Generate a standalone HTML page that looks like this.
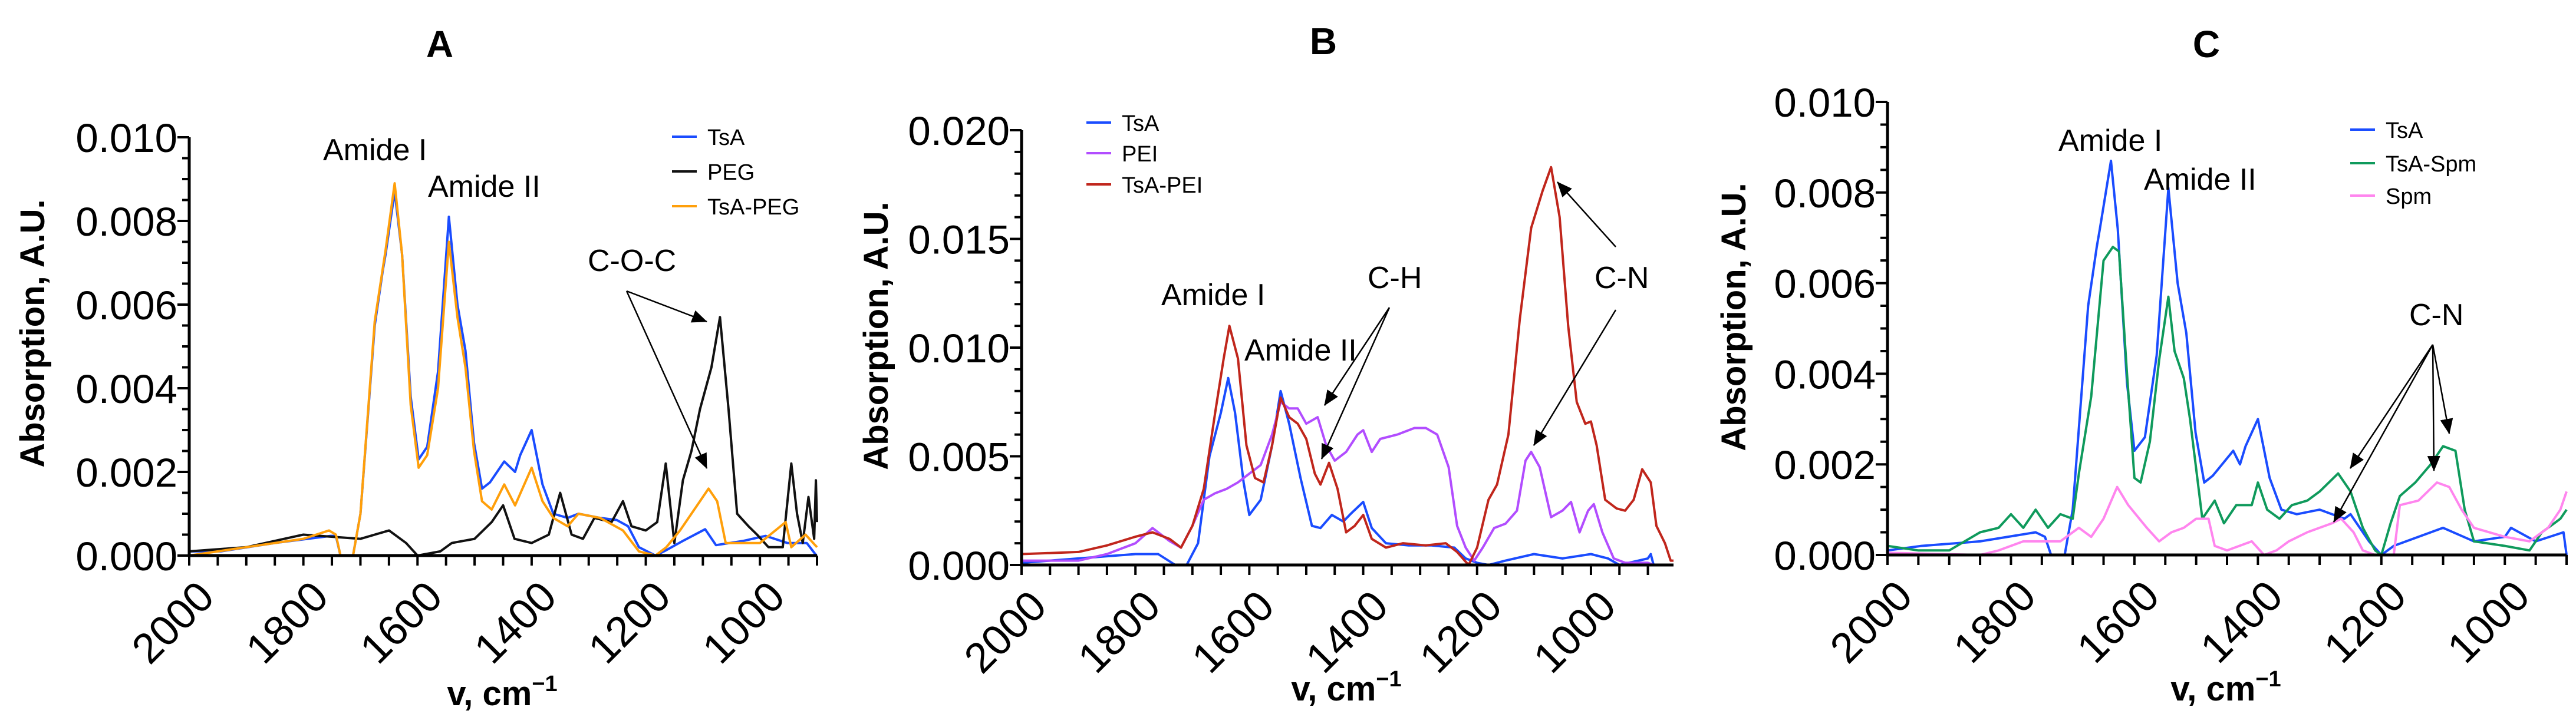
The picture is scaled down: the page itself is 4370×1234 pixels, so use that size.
<!DOCTYPE html>
<html><head><meta charset="utf-8"><style>
html,body{margin:0;padding:0;background:#fff}
svg{display:block}
text{font-family:"Liberation Sans",sans-serif;fill:#000}
</style></head><body>
<svg id="fig" width="4370" height="1234" viewBox="0 0 4370 1234" xmlns="http://www.w3.org/2000/svg">
<defs>
<marker id="ahb" markerWidth="26" markerHeight="22" refX="25" refY="11" orient="auto" markerUnits="userSpaceOnUse" viewBox="0 0 26 22"><path d="M0,0 L26,11 L0,22 z" fill="#000"/></marker></defs>
</svg>
<script>
// ---------- Panel A data ----------
const aTsAx=[2000,1945,1850,1752,1743,1735,1713,1700,1675,1661,1656,1640,1627,1612,1598,1583,1564,1545,1530,1516,1501,1487,1473,1448,1429,1420,1400,1381,1362,1337,1318,1280,1251,1231,1212,1183,1164,1135,1096,1077,1029,990,952,918,901];
const aTsAy=[0.0001,0.0001,0.0003,0.00047,0.00047,0,0,0.001,0.0055,0.0068,0.0072,0.0087,0.0072,0.0038,0.0023,0.0026,0.0044,0.0081,0.006,0.0049,0.0027,0.0016,0.00175,0.00225,0.002,0.0024,0.003,0.0017,0.001,0.0009,0.001,0.0009,0.00085,0.0007,0.0002,0,0.00013,0.00035,0.00063,0.00025,0.00035,0.00047,0.0003,0.0003,0];
const aPEGx=[2000,1900,1800,1700,1650,1620,1600,1560,1540,1500,1470,1450,1430,1400,1370,1350,1330,1310,1290,1260,1240,1225,1200,1180,1165,1150,1135,1120,1105,1085,1070,1055,1040,1020,1005,985,960,945,935,925,915,905,902,900];
const aPEGy=[0.0001,0.0002,0.0005,0.0004,0.0006,0.0003,0,0.0001,0.0003,0.0004,0.0008,0.0012,0.0004,0.0003,0.0005,0.0015,0.0005,0.0004,0.0009,0.0008,0.0013,0.0007,0.0006,0.0008,0.0022,0.0003,0.0018,0.0025,0.0035,0.0045,0.0057,0.0035,0.001,0.0007,0.0005,0.0002,0.0002,0.0022,0.001,0.0003,0.0014,0.0004,0.0018,0.0008];
const aMixx=[2000,1900,1800,1755,1743,1735,1713,1700,1675,1656,1640,1627,1612,1598,1583,1564,1545,1530,1516,1501,1487,1470,1448,1429,1400,1381,1362,1337,1318,1280,1240,1212,1183,1164,1140,1110,1090,1075,1060,1020,1000,955,945,920,900];
const aMixy=[0,0.0002,0.0004,0.0006,0.0005,0,0,0.001,0.0056,0.0073,0.0089,0.0072,0.0036,0.0021,0.0024,0.004,0.0075,0.0057,0.0045,0.0025,0.0013,0.0011,0.0017,0.0012,0.0021,0.0013,0.0009,0.0007,0.001,0.0009,0.0006,0.0001,0,0.0002,0.0006,0.0012,0.0016,0.0013,0.0003,0.0003,0.0003,0.0008,0.0002,0.0005,0.0002];
// ---------- Panel B data ----------
const bTsAx=[2000,1900,1800,1760,1730,1710,1690,1670,1650,1637,1625,1610,1600,1580,1560,1545,1530,1510,1490,1475,1455,1435,1420,1400,1385,1360,1320,1280,1240,1220,1200,1180,1150,1100,1050,1000,970,950,900,895,890];
const bTsAy=[0.0001,0.0003,0.0005,0.0005,0,0,0.001,0.005,0.007,0.0086,0.007,0.0038,0.0023,0.003,0.0055,0.008,0.0065,0.004,0.0018,0.0017,0.0023,0.002,0.0024,0.0029,0.0017,0.001,0.0009,0.0009,0.0008,0.0003,0.0001,0,0.0002,0.0005,0.0003,0.0005,0.0003,0,0.0003,0.0005,0];
const bPEIx=[2000,1900,1850,1800,1770,1740,1720,1700,1680,1660,1640,1620,1600,1580,1560,1545,1530,1515,1500,1480,1465,1450,1430,1410,1400,1385,1370,1340,1310,1290,1270,1250,1235,1220,1205,1190,1170,1150,1130,1115,1105,1090,1070,1050,1035,1020,1005,995,980,960,940,900,890];
const bPEIy=[0.0002,0.0002,0.0005,0.001,0.0017,0.0011,0.0008,0.0018,0.003,0.0033,0.0035,0.0038,0.0042,0.0046,0.006,0.0075,0.0072,0.0072,0.0065,0.0068,0.0055,0.0048,0.0052,0.006,0.0062,0.0052,0.0058,0.006,0.0063,0.0063,0.006,0.0045,0.0018,0.0008,0.0002,0.0008,0.0017,0.0019,0.0025,0.0048,0.0052,0.0045,0.0022,0.0025,0.0029,0.0015,0.0025,0.0028,0.0015,0.0003,0.0001,0.0001,0];
const bMixx=[2000,1900,1850,1800,1770,1740,1720,1700,1680,1660,1645,1635,1620,1605,1590,1575,1560,1545,1530,1515,1500,1485,1475,1460,1445,1430,1415,1400,1385,1360,1330,1290,1255,1235,1215,1200,1180,1165,1145,1125,1105,1085,1070,1055,1040,1025,1010,1000,990,975,955,940,925,910,895,885,870,860,855];
const bMixy=[0.0005,0.0006,0.0009,0.0013,0.0015,0.0012,0.0008,0.0018,0.0035,0.007,0.0095,0.011,0.0095,0.0055,0.004,0.0038,0.0055,0.0077,0.0068,0.0065,0.0058,0.0042,0.0037,0.0047,0.0035,0.0015,0.0018,0.0023,0.0012,0.0008,0.001,0.0009,0.001,0.0006,0,0.0008,0.003,0.0037,0.006,0.0113,0.0155,0.0172,0.0183,0.016,0.011,0.0075,0.0065,0.0066,0.0055,0.003,0.0026,0.0025,0.003,0.0044,0.0038,0.0018,0.001,0.0002,0.0002];
// ---------- Panel C data ----------
const cTsAx=[2000,1945,1850,1760,1745,1735,1713,1700,1675,1661,1656,1638,1627,1612,1600,1583,1564,1545,1530,1516,1501,1487,1473,1440,1429,1420,1400,1381,1362,1337,1300,1260,1250,1220,1200,1180,1100,1050,1000,990,950,905,900];
const cTsAy=[0.0001,0.0002,0.0003,0.0005,0.0004,0,0,0.001,0.0055,0.0068,0.0072,0.0087,0.0072,0.0038,0.0023,0.0026,0.0044,0.0081,0.006,0.0049,0.0027,0.0016,0.00175,0.0023,0.002,0.0024,0.003,0.0017,0.001,0.0009,0.001,0.0008,0.0009,0.0003,0,0.0002,0.0006,0.0003,0.0004,0.0006,0.0003,0.0005,0];
const cMixx=[2000,1950,1900,1850,1820,1800,1780,1760,1740,1720,1700,1690,1670,1650,1635,1625,1612,1600,1590,1575,1560,1545,1535,1520,1510,1490,1470,1455,1435,1410,1400,1385,1365,1345,1320,1300,1270,1250,1230,1210,1200,1185,1170,1145,1120,1100,1080,1065,1050,1000,960,940,920,910,900];
const cMixy=[0.0002,0.0001,0.0001,0.0005,0.0006,0.0009,0.0006,0.001,0.0006,0.0009,0.0008,0.0018,0.0035,0.0065,0.0068,0.0067,0.004,0.0017,0.0016,0.0025,0.0043,0.0057,0.0045,0.0039,0.003,0.0008,0.0012,0.0007,0.0011,0.0011,0.0016,0.001,0.0008,0.0011,0.0012,0.0014,0.0018,0.0014,0.0006,0.0001,0,0.0007,0.0013,0.0016,0.002,0.0024,0.0023,0.001,0.0003,0.0002,0.0001,0.0005,0.0007,0.0008,0.001];
const cSpmx=[2000,1850,1820,1780,1720,1690,1670,1650,1628,1610,1580,1560,1540,1520,1500,1480,1470,1450,1430,1410,1390,1370,1350,1320,1280,1265,1245,1230,1210,1180,1170,1140,1110,1090,1070,1050,1000,960,930,910,900];
const cSpmy=[0.00005,0,0.0001,0.0003,0.0003,0.0006,0.0004,0.0008,0.0015,0.0011,0.0006,0.0003,0.0005,0.0006,0.0008,0.0008,0.0002,0.0001,0.0002,0.0003,0,0.0001,0.0003,0.0005,0.0007,0.0008,0.0005,0.0001,0,0,0.0011,0.0012,0.0016,0.0015,0.001,0.0006,0.0004,0.0003,0.0006,0.001,0.0014];
// ---------- tick label arrays ----------
const xTickLabels=[2000,1800,1600,1400,1200,1000];
const yTicksA=["0.000","0.002","0.004","0.006","0.008","0.010"];
const yTicksB=["0.000","0.005","0.010","0.015","0.020"];
const yTicksC=["0.000","0.002","0.004","0.006","0.008","0.010"];

const NS="http://www.w3.org/2000/svg";
const svg=document.getElementById('fig');
function mk(tag,attrs,parent,txt){const e=document.createElementNS(NS,tag);for(const k in attrs)e.setAttribute(k,attrs[k]);if(txt!==undefined)e.textContent=txt;(parent||svg).appendChild(e);return e;}

function panel(p){
  const g=mk('g',{});
  
  
  const X=v=>p.x0+(p.wMax-v)/(p.wMax-p.wMin)*(p.x1-p.x0);
  const Y=v=>p.y0-(v/p.yMax)*(p.y0-p.y1);
  p.series.forEach(s=>{
    let d='';s.x.forEach((w,i)=>{d+=(i?'L':'M')+X(w).toFixed(1)+','+Y(s.y[i]).toFixed(1);});
    const path=mk('path',{d:d,fill:'none',stroke:s.c,'stroke-width':4,'stroke-linejoin':'round'},g);
    
    
  });
  const ax=mk('path',{d:`M${p.x0},${Y(p.yMax)}L${p.x0},${p.y0}L${p.x1},${p.y0}`,fill:'none',stroke:'#000','stroke-width':5},g);
  
  
  let td='';
  for(let w=2000;w>=p.wMin-1;w-=50){td+=`M${X(w)},${p.y0}L${X(w)},${p.y0+17}`;}
  const nm=p.minor;
  for(let i=0;i<=Math.round(p.yMax/nm);i++){const yy=Y(i*nm);const maj=(Math.abs((i*nm/p.yStep)-Math.round(i*nm/p.yStep))<1e-6);td+=`M${p.x0},${yy}L${p.x0-(maj?20:12)},${yy}`;}
  mk('path',{d:td,stroke:'#000','stroke-width':4,fill:'none'},g);
  xTickLabels.forEach(w=>{
    if(w<p.wMin)return;
    const tx=X(w)+10,ty=p.y0+38;
    const t=mk('text',{x:tx,y:ty,'font-size':72,'text-anchor':'end','dominant-baseline':'hanging',transform:`rotate(-45 ${tx} ${ty})`},g,String(w));
    
    
  });
  p.yLabels.forEach((l,i)=>{
    const t=mk('text',{x:p.x0-20,y:Y(i*p.yStep)+25,'font-size':69,'text-anchor':'end'},g,l);
    
    
  });
  const tt=mk('text',{x:p.tx,y:p.ty,'font-size':64,'font-weight':'bold','text-anchor':'middle'},g,p.id);
  
  
  const yt=mk('text',{x:0,y:0,'font-size':58,'font-weight':'bold','text-anchor':'middle',transform:`translate(${p.ytx},${p.yty}) rotate(-90)`},g,'Absorption, A.U.');
  
  
  const xt=mk('text',{x:p.xtx,y:p.xty,'font-size':58,'font-weight':'bold','text-anchor':'middle'},g);
  
  
  xt.appendChild(document.createTextNode('v, cm'));
  mk('tspan',{'font-size':38,dy:-24},xt,'−1');
  p.series.forEach((s,i)=>{
    const ly=p.ly[i];
    const le=mk('g',{},g);
    
    
    mk('line',{x1:p.lx,x2:p.lx+42,y1:ly,y2:ly,stroke:s.c,'stroke-width':4},le);
    mk('text',{x:p.lx+60,y:ly+14,'font-size':38},le,s.n);
  });
  p.notes.forEach(n=>{
    const t=mk('text',{x:n[1],y:n[2],'font-size':52},g,n[0]);
    
    
  });
  p.arrows.forEach(a=>{
    const l=mk('line',{x1:a[0],y1:a[1],x2:a[2],y2:a[3],stroke:'#000','stroke-width':2.5,'marker-end':'url(#ahb)'},g);
    
    
  });
}

panel({id:'A',x0:321,x1:1386,wMax:2000,wMin:900,y0:943,y1:233,yMax:0.010,yStep:0.002,minor:0.0005,yLabels:yTicksA,
 series:[{n:'TsA',c:'#1a4cff',x:aTsAx,y:aTsAy},{n:'PEG',c:'#111',x:aPEGx,y:aPEGy},{n:'TsA-PEG',c:'#ff9f0a',x:aMixx,y:aMixy}],
 tx:746,ty:97,ytx:75,yty:566,xtx:852,xty:1197,lx:1140,ly:[232,291,350],
 notes:[['Amide I',548,272],['Amide II',726,334],['C-O-C',997,460]],
 arrows:[[1063,494,1199,546],[1063,494,1199,795]]});
panel({id:'B',x0:1733,x1:2839,wMax:2000,wMin:855,y0:959,y1:221,yMax:0.020,yStep:0.005,minor:0.001,yLabels:yTicksB,
 series:[{n:'TsA',c:'#1a4cff',x:bTsAx,y:bTsAy},{n:'PEI',c:'#b24dff',x:bPEIx,y:bPEIy},{n:'TsA-PEI',c:'#c0261c',x:bMixx,y:bMixy}],
 tx:2245,ty:92,ytx:1506,yty:570,xtx:2284,xty:1189,lx:1843,ly:[208,260,313],
 notes:[['Amide I',1970,518],['Amide II',2111,612],['C-H',2320,489],['C-N',2705,489]],
 arrows:[[2357,522,2247,688],[2357,522,2242,779],[2741,419,2642,309],[2741,526,2602,756]]});
panel({id:'C',x0:3202,x1:4354,wMax:2000,wMin:900,y0:942,y1:173,yMax:0.010,yStep:0.002,minor:0.0005,yLabels:yTicksC,
 series:[{n:'TsA',c:'#1a4cff',x:cTsAx,y:cTsAy},{n:'TsA-Spm',c:'#0f9a5c',x:cMixx,y:cMixy},{n:'Spm',c:'#ff85ee',x:cSpmx,y:cSpmy}],
 tx:3743,ty:97,ytx:2961,yty:538,xtx:3776,xty:1189,lx:3987,ly:[220,277,332],
 notes:[['Amide I',3492,256],['Amide II',3637,322],['C-N',4087,552]],
 arrows:[[4127,585,3987,795],[4127,585,3959,886],[4127,585,4129,799],[4127,585,4155,736]]});
</script>
</body></html>
